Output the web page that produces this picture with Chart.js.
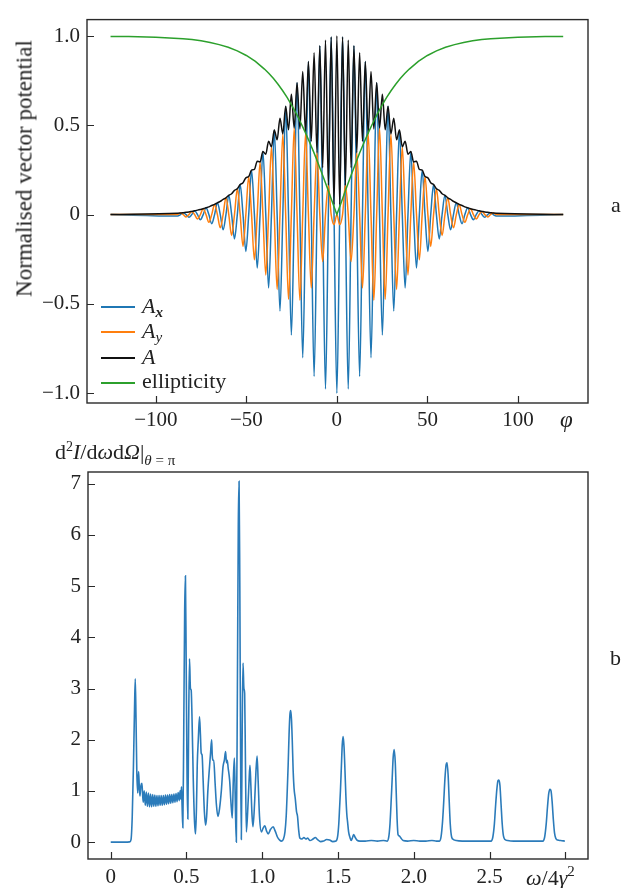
<!DOCTYPE html>
<html><head><meta charset="utf-8">
<script src="https://cdn.jsdelivr.net/npm/chart.js@4/dist/chart.umd.min.js"></script>
<style>
html,body{margin:0;padding:0;background:#fff;}
#wrap{position:relative;width:633px;height:888px;font-family:"Liberation Serif","DejaVu Serif",serif;color:#222;overflow:hidden;}
canvas{position:absolute;left:0;}
.lbl{position:absolute;white-space:nowrap;line-height:1;}
.sw{position:absolute;height:2px;width:34px;}
</style></head><body>
<div id="wrap">
<canvas id="c1" width="633" height="440" style="top:0"></canvas>
<canvas id="c2" width="633" height="448" style="top:440px"></canvas>
<div class="lbl" id="ytitle" style="left:-126px;top:157px;width:300px;text-align:center;font-size:23px;transform:rotate(-90deg);">Normalised vector potential</div>
<div class="lbl" style="left:611px;top:194px;font-size:22px;">a</div>
<div class="lbl" style="left:610px;top:647px;font-size:22px;">b</div>
<div class="lbl" style="left:560px;top:408px;font-size:23px;font-style:italic;">φ</div>
<div class="lbl" style="left:526px;top:864px;font-size:22px;"><i>ω</i>/4<i>γ</i><sup style="font-size:15px;vertical-align:9px;">2</sup></div>
<div class="lbl" style="left:55px;top:440px;font-size:22px;">d<sup style="font-size:14px;vertical-align:8px;">2</sup><i>I</i>/d<i>ω</i>d<i>Ω</i>|<sub style="font-size:15px;vertical-align:-6px;"><i>θ</i> = π</sub></div>
<div class="sw" style="left:101px;top:306px;background:#1f77b4;"></div>
<div class="sw" style="left:101px;top:331px;background:#ff7f0e;"></div>
<div class="sw" style="left:101px;top:357px;background:#111;"></div>
<div class="sw" style="left:101px;top:382px;background:#2ca02c;"></div>
<div class="lbl" style="left:142px;top:295px;font-size:22px;"><i>A</i><sub style="font-size:15px;vertical-align:-4px;"><b><i>x</i></b></sub></div>
<div class="lbl" style="left:142px;top:320px;font-size:22px;"><i>A</i><sub style="font-size:15px;vertical-align:-4px;"><i>y</i></sub></div>
<div class="lbl" style="left:142px;top:346px;font-size:22px;"><i>A</i></div>
<div class="lbl" style="left:142px;top:370px;font-size:22px;">ellipticity</div>
</div>
<script>
// ---------- panel a data ----------
const phi = [-125,
-87.96,-86.39,-84.82,-83.25,-81.68,-80.11,-78.54,-76.97,-75.40,-73.83,-72.26,-70.69,-69.12,-67.54,-65.97,-64.40,-62.83,-61.26,-59.69,-58.12,-56.55,-54.98,-53.41,-51.84,-50.27,-48.69,-47.12,-45.55,-43.98,-42.41,-40.84,-39.27,-37.70,-36.13,-34.56,-32.99,-31.42,-29.85,-28.27,-26.70,-25.13,-23.56,-21.99,-20.42,-18.85,-17.28,-15.71,-14.14,-12.57,-11.00,-9.42,-7.85,-6.28,-4.71,-3.14,-1.57,
0,
1.57,3.14,4.71,6.28,7.85,9.42,11.00,12.57,14.14,15.71,17.28,18.85,20.42,21.99,23.56,25.13,26.70,28.27,29.85,31.42,32.99,34.56,36.13,37.70,39.27,40.84,42.41,43.98,45.55,47.12,48.69,50.27,51.84,53.41,54.98,56.55,58.12,59.69,61.26,62.83,64.40,65.97,67.54,69.12,70.69,72.26,73.83,75.40,76.97,78.54,80.11,81.68,83.25,84.82,86.39,87.96,
125];

const ax = [0,
-0.008,0,0.011,0,-0.015,0,0.021,0,-0.029,0,0.038,0,-0.051,0,0.066,0,-0.085,0,0.108,0,-0.136,0,0.168,0,-0.206,0,0.249,0,-0.299,0,0.353,0,-0.411,0,0.474,0,-0.540,0,0.607,0,-0.674,0,0.739,0,-0.801,0,0.857,0,-0.906,0,0.946,0,-0.976,0,0.994,0,
-1.000,
0,0.994,0,-0.976,0,0.946,0,-0.906,0,0.857,0,-0.801,0,0.739,0,-0.674,0,0.607,0,-0.540,0,0.474,0,-0.411,0,0.353,0,-0.299,0,0.249,0,-0.206,0,0.168,0,-0.136,0,0.108,0,-0.085,0,0.066,0,-0.051,0,0.038,0,-0.029,0,0.021,0,-0.015,0,0.011,0,-0.008,
0];

const ay = [0,
0,0.009,0,-0.013,0,0.018,0,-0.025,0,0.033,0,-0.043,0,0.057,0,-0.074,0,0.094,0,-0.117,0,0.145,0,-0.178,0,0.213,0,-0.253,0,0.295,0,-0.338,0,0.380,0,-0.419,0,0.452,0,-0.475,0,0.485,0,-0.480,0,0.456,0,-0.411,0,0.347,0,-0.263,0,0.165,0,-0.056,
0,
-0.056,0,0.165,0,-0.263,0,0.347,0,-0.411,0,0.456,0,-0.480,0,0.485,0,-0.475,0,0.452,0,-0.419,0,0.380,0,-0.338,0,0.295,0,-0.253,0,0.213,0,-0.178,0,0.145,0,-0.117,0,0.094,0,-0.074,0,0.057,0,-0.043,0,0.033,0,-0.025,0,0.018,0,-0.013,0,0.009,0,
0];

const aMag = [0,
0.008,0.009,0.011,0.013,0.015,0.018,0.021,0.025,0.029,0.033,0.038,0.043,0.051,0.057,0.066,0.074,0.085,0.094,0.108,0.117,0.136,0.145,0.168,0.178,0.206,0.213,0.249,0.253,0.299,0.295,0.353,0.338,0.411,0.380,0.474,0.419,0.540,0.452,0.607,0.475,0.674,0.485,0.739,0.480,0.801,0.456,0.857,0.411,0.906,0.347,0.946,0.263,0.976,0.165,0.994,0.056,
1.000,
0.056,0.994,0.165,0.976,0.263,0.946,0.347,0.906,0.411,0.857,0.456,0.801,0.480,0.739,0.485,0.674,0.475,0.607,0.452,0.540,0.419,0.474,0.380,0.411,0.338,0.353,0.295,0.299,0.253,0.249,0.213,0.206,0.178,0.168,0.145,0.136,0.117,0.108,0.094,0.085,0.074,0.066,0.057,0.051,0.043,0.038,0.033,0.029,0.025,0.021,0.018,0.015,0.013,0.011,0.009,0.008,
0];

const ellPhi = [-125,-120,-115,-110,-105,-100,-95,-90,-85,-80,-75,-70,-65,-60,-55,-50,-45,-40,-37.5,-35,-32.5,-30,-27.5,-25,-22.5,-20,-17.5,-15,-12.5,-10,-7.5,-5,-2.5,0,2.5,5,7.5,10,12.5,15,17.5,20,22.5,25,27.5,30,32.5,35,37.5,40,45,50,55,60,65,70,75,80,85,90,95,100,105,110,115,120,125];
const ellVal = [0.998,0.998,0.997,0.996,0.995,0.993,0.991,0.988,0.985,0.980,0.973,0.964,0.952,0.937,0.917,0.891,0.858,0.815,0.790,0.762,0.730,0.695,0.656,0.613,0.567,0.516,0.462,0.404,0.343,0.278,0.211,0.142,0.071,0,0.071,0.142,0.211,0.278,0.343,0.404,0.462,0.516,0.567,0.613,0.656,0.695,0.730,0.762,0.790,0.815,0.858,0.891,0.917,0.937,0.952,0.964,0.973,0.980,0.985,0.988,0.991,0.993,0.995,0.996,0.997,0.998,0.998];

const xTicksA = [-100,-50,0,50,100];
const xTickLabelsA = ['\u2212100','\u221250','0','50','100'];
const yTicksA = [-1,-0.5,0,0.5,1];
const yTickLabelsA = ['\u22121.0','\u22120.5','0','0.5','1.0'];

// ---------- panel b data ----------
const specX = [0,0.05,0.10,0.125,0.134,0.142,0.150,0.157,0.162,0.167,0.172,0.178,0.184,0.189,0.193,0.199,0.206,0.211,0.215,0.221,
0.228,0.235,0.242,0.249,0.256,0.263,0.270,0.277,0.284,0.291,0.298,0.305,0.312,0.319,0.326,0.333,0.340,0.347,0.354,0.361,0.368,0.375,0.382,0.389,0.396,0.403,0.410,0.417,0.424,0.431,0.438,0.445,0.452,0.458,0.463,0.467,0.471,
0.476,0.482,0.488,0.493,0.498,0.504,0.509,0.514,0.520,0.526,0.531,0.536,0.545,0.553,0.560,0.566,0.571,0.578,0.586,0.592,0.597,0.603,0.610,0.618,0.626,0.633,0.641,0.652,0.659,0.666,0.670,0.674,0.680,0.688,0.697,0.7075,0.718,0.730,0.741,0.750,0.758,0.764,0.769,0.775,0.785,0.793,0.802,0.809,0.816,0.822,0.829,0.836,0.842,0.847,0.852,0.857,0.862,0.868,0.873,0.879,0.884,0.889,0.895,0.907,0.913,0.919,0.925,0.933,0.939,0.950,0.958,0.966,0.973,0.982,0.994,
1.005,1.017,1.028,1.039,1.055,1.072,1.085,1.100,1.115,1.127,
1.140,1.150,1.158,1.165,1.171,1.177,1.183,1.188,1.193,1.198,1.204,1.210,1.218,1.226,1.233,1.240,1.248,
1.262,1.275,1.288,1.300,1.315,1.335,1.350,1.365,1.385,1.405,1.425,1.445,1.465,1.487,
1.497,1.505,1.511,1.516,1.522,1.528,1.534,1.540,1.546,1.552,1.558,1.563,1.570,1.580,1.587,1.595,1.603,1.612,1.625,1.645,1.680,1.720,1.760,1.800,1.825,
1.835,1.843,1.850,1.857,1.864,1.871,1.878,1.884,1.890,1.896,1.905,1.915,1.930,1.96,2.00,2.04,2.08,2.12,2.15,2.170,
2.180,2.190,2.198,2.206,2.214,2.220,2.227,2.234,2.241,2.250,2.262,2.280,2.32,2.36,2.40,2.44,2.48,2.510,
2.522,2.532,2.541,2.549,2.556,2.562,2.569,2.576,2.584,2.592,2.602,2.620,2.66,2.70,2.74,2.78,2.82,2.852,
2.864,2.874,2.883,2.891,2.899,2.906,2.913,2.921,2.929,2.938,2.950,2.970,2.997];
const specY = [0,0,0,0.005,0.05,0.5,1.5,2.6,3.19,2.4,1.4,0.96,1.38,1.05,0.9,1.1,1.15,0.9,0.78,1.0,
0.72,0.98,0.70,0.96,0.69,0.94,0.69,0.93,0.70,0.92,0.70,0.91,0.71,0.91,0.72,0.91,0.72,0.91,0.73,0.92,0.74,0.92,0.75,0.93,0.76,0.93,0.77,0.94,0.78,0.95,0.79,0.97,0.81,1.0,0.84,1.08,0.7,
0.28,2.2,4.5,5.2,3.5,1.2,0.45,2.2,3.58,3.0,2.97,2.5,1.2,0.4,0.16,0.7,1.5,2.0,2.45,2.1,1.74,1.7,1.2,0.6,0.33,0.5,1.0,1.47,1.75,2.0,1.7,1.6,1.6,1.2,0.75,0.5,0.65,1.0,1.47,1.6,1.77,1.55,1.6,1.45,1.2,0.8,0.47,1.2,1.64,0.8,0,3.0,6.2,7.05,5.0,1.8,0.05,2.3,3.5,3.0,2.9,1.6,0.2,0.8,1.2,1.5,1.1,0.5,0.3,0.8,1.35,1.68,1.2,0.5,0.2,
0.27,0.32,0.22,0.16,0.25,0.3,0.22,0.1,0.04,0.02,
0.06,0.2,0.5,1.0,1.5,2.1,2.5,2.57,2.4,2.0,1.4,1.05,0.85,0.6,0.5,0.25,0.08,
0.06,0.09,0.06,0.08,0.03,0.06,0.09,0.05,0.01,0.02,0.05,0.04,0.01,0.02,
0.1,0.35,0.7,1.0,1.45,1.9,2.06,1.85,1.4,0.9,0.55,0.4,0.2,0.08,0.03,0.08,0.15,0.1,0.04,0.02,0.02,0.03,0.02,0.03,0.02,
0.1,0.35,0.75,1.2,1.65,1.81,1.55,1.0,0.45,0.15,0.12,0.08,0.03,0.02,0.03,0.02,0.02,0.03,0.02,0.02,
0.1,0.4,0.8,1.25,1.52,1.55,1.3,0.8,0.35,0.1,0.05,0.03,0.02,0.02,0.02,0.02,0.02,0.02,
0.1,0.35,0.75,1.05,1.2,1.21,1.1,0.75,0.35,0.12,0.05,0.03,0.02,0.02,0.02,0.02,0.02,0.02,
0.1,0.35,0.7,0.95,1.03,1.0,0.8,0.45,0.18,0.07,0.04,0.03,0.02];

const xTicksB = [0,0.5,1.0,1.5,2.0,2.5,3.0];
const xTickLabelsB = ['0','0.5','1.0','1.5','2.0','2.5',''];
const yTicksB = [0,1,2,3,4,5,6,7];
const yTickLabelsB = ['0','1','2','3','4','5','6','7'];

// ---------- drawing ----------
Chart.defaults.font.family = "'Liberation Serif', 'DejaVu Serif', serif";
Chart.defaults.font.size = 21;
Chart.defaults.color = '#222';

const framePlugin = {
  id: 'frame',
  afterDraw(chart) {
    const {ctx, chartArea: a, scales} = chart;
    ctx.save();
    ctx.strokeStyle = '#2a2a2a';
    ctx.lineWidth = 1.4;
    ctx.strokeRect(a.left, a.top, a.right - a.left, a.bottom - a.top);
    ctx.lineWidth = 1.2;
    ctx.beginPath();
    scales.x.ticks.forEach(t => { const p = Math.round(scales.x.getPixelForValue(t.value)) + 0.5; ctx.moveTo(p, a.bottom); ctx.lineTo(p, a.bottom - 7); });
    scales.y.ticks.forEach(t => { const p = Math.round(scales.y.getPixelForValue(t.value)) + 0.5; ctx.moveTo(a.left, p); ctx.lineTo(a.left + 7, p); });
    ctx.stroke();
    ctx.restore();
  }
};

function pts(xs, ys) { return ys.map((v, i) => ({x: xs[i], y: v})); }

function scalesFor(xmin, xmax, ymin, ymax, xt, xl, yt, yl, yw, xh, xpad) {
  return {
    x: {
      type: 'linear', min: xmin, max: xmax,
      grid: {display: false, drawTicks: false}, border: {display: false},
      afterBuildTicks: s => { s.ticks = xt.map(v => ({value: v})); },
      afterFit: s => { s.height = xh; },
      ticks: {autoSkip: false, maxRotation: 0, padding: xpad, callback: (v, i) => xl[i]}
    },
    y: {
      type: 'linear', min: ymin, max: ymax,
      grid: {display: false, drawTicks: false}, border: {display: false},
      afterBuildTicks: s => { s.ticks = yt.map(v => ({value: v})); },
      afterFit: s => { s.width = yw; },
      ticks: {autoSkip: false, padding: 7, callback: (v, i) => yl[i]}
    }
  };
}

const common = {
  responsive: false, animation: false, devicePixelRatio: 1,
  plugins: {legend: {display: false}, tooltip: {enabled: false}},
  elements: {point: {radius: 0}}
};

new Chart(document.getElementById('c1'), {
  type: 'line',
  data: {datasets: [
    {label: 'Ax', data: pts(phi, ax), borderColor: '#1f77b4', borderWidth: 1.5, cubicInterpolationMode: 'monotone', order: 4},
    {label: 'Ay', data: pts(phi, ay), borderColor: '#ff7f0e', borderWidth: 1.5, cubicInterpolationMode: 'monotone', order: 3},
    {label: 'A', data: pts(phi, aMag), borderColor: '#111111', borderWidth: 1.5, cubicInterpolationMode: 'monotone', order: 2},
    {label: 'ellipticity', data: pts(ellPhi, ellVal), borderColor: '#2ca02c', borderWidth: 1.5, tension: 0, order: 1}
  ]},
  options: Object.assign({}, common, {
    layout: {padding: {left: 0, right: 45, top: 8, bottom: 0}},
    scales: scalesFor(-138, 138.7, -1.055, 1.092, xTicksA, xTickLabelsA, yTicksA, yTickLabelsA, 87, 37, 5)
  }),
  plugins: [framePlugin]
});

new Chart(document.getElementById('c2'), {
  type: 'line',
  data: {datasets: [
    {label: 'spectrum', data: pts(specX, specY), borderColor: '#2b7bba', borderWidth: 1.6, cubicInterpolationMode: 'monotone'}
  ]},
  options: Object.assign({}, common, {
    layout: {padding: {left: 0, right: 45, top: 32, bottom: 0}},
    scales: scalesFor(-0.15, 3.15, -0.33, 7.23, xTicksB, xTickLabelsB, yTicksB, yTickLabelsB, 88, 29, 6)
  }),
  plugins: [framePlugin]
});
</script>
</body></html>
